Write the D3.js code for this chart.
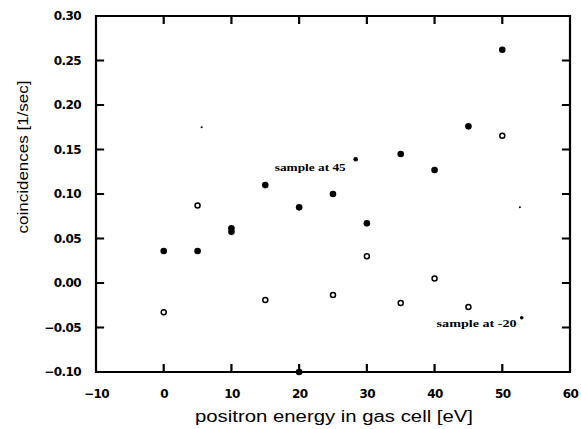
<!DOCTYPE html>
<html>
<head>
<meta charset="utf-8">
<script src="https://cdn.jsdelivr.net/npm/d3@7"></script>
<style>
  body { margin: 0; background: #fff; }
  svg { display: block; }
</style>
</head>
<body>
<div id="plot"></div>
<script>
// sample at 45 deg (filled dots)
let energy45 = [0, 5, 10, 10, 15, 20, 20, 25, 30, 35, 40, 45, 50];
let rate45 = [0.036, 0.036, 0.0615, 0.0575, 0.110, 0.085, -0.100, 0.100, 0.067, 0.145, 0.127, 0.176, 0.262];

// sample at -20 deg (open dots)
let energyM20 = [0, 5, 15, 25, 30, 35, 40, 45, 50];
let rateM20 = [-0.033, 0.087, -0.019, -0.0135, 0.030, -0.0225, 0.005, -0.027, 0.1655];

// stray specks on the scan
let speckX = [5.6, 52.6];
let speckY = [0.175, 0.085];

let xTicks = [-10, 0, 10, 20, 30, 40, 50, 60];
let yTicks = [-0.10, -0.05, 0.00, 0.05, 0.10, 0.15, 0.20, 0.25, 0.30];

let labelText = ["sample at 45", "sample at -20"];
let labelX = [16.4, 40.3];
let labelY = [0.126, -0.049];
let degX = [28.35, 52.87];
let degY = [0.139, -0.039];

let width = 581;
let height = 429;

let x = d3.scaleLinear().domain([-10, 60]).range([96, 570]);
let y = d3.scaleLinear().domain([-0.1, 0.3]).range([372, 16]);

let svg = d3.select("#plot")
    .append("svg")
    .attr("width", width)
    .attr("height", height)
    .style("background-color", "#fff");

let tickFont = "DejaVu Sans, sans-serif";
let tickLen = 7;
let tickW = 2;
let frameW = 2.2;

// tick labels from the d3 axes
let axisB = svg.append("g")
    .attr("transform", `translate(0,${y(-0.1)})`)
    .call(d3.axisBottom(x).tickValues(xTicks).tickSize(0).tickPadding(17).tickFormat(d3.format("d")));
let axisL = svg.append("g")
    .attr("transform", `translate(${x(-10)},0)`)
    .call(d3.axisLeft(y).tickValues(yTicks).tickSize(0).tickPadding(15).tickFormat(d3.format(".2f")));

[axisB, axisL].forEach(g => {
    g.select(".domain").remove();
    g.selectAll(".tick line").remove();
    g.selectAll(".tick text")
        .attr("fill", "#000")
        .style("font-family", tickFont)
        .style("font-size", "12px")
        .style("font-weight", "bold")
        .style("letter-spacing", "-0.6px");
});

// frame as one path, ticks pointing inward on all four sides
let x0 = x(-10), x1 = x(60), y0 = y(0.3), y1 = y(-0.1);
let p = d3.path();
p.rect(x0, y0, x1 - x0, y1 - y0);
xTicks.forEach(v => {
    p.moveTo(x(v), y1); p.lineTo(x(v), y1 - tickLen);
    p.moveTo(x(v), y0); p.lineTo(x(v), y0 + tickLen);
});
yTicks.forEach(v => {
    p.moveTo(x0, y(v)); p.lineTo(x0 + tickLen, y(v));
    p.moveTo(x1, y(v)); p.lineTo(x1 - tickLen, y(v));
});
svg.append("path")
    .attr("d", p.toString())
    .attr("fill", "none")
    .attr("stroke", "#000")
    .attr("stroke-width", frameW)
    .attr("stroke-linecap", "square");

// axis titles
svg.append("text")
    .attr("x", 334)
    .attr("y", 422)
    .attr("text-anchor", "middle")
    .attr("textLength", 278)
    .attr("lengthAdjust", "spacingAndGlyphs")
    .style("font-family", "Liberation Sans, sans-serif")
    .style("font-size", "16px")
    .text("positron energy in gas cell [eV]");

svg.append("text")
    .attr("transform", "translate(28,157) rotate(-90)")
    .attr("text-anchor", "middle")
    .attr("textLength", 153)
    .attr("lengthAdjust", "spacingAndGlyphs")
    .style("font-family", "Liberation Sans, sans-serif")
    .style("font-size", "15px")
    .text("coincidences [1/sec]");

// data
svg.selectAll("circle.filled")
    .data(energy45.map((e, i) => [e, rate45[i]]))
    .enter()
    .append("circle")
    .attr("class", "filled")
    .attr("cx", d => x(d[0]))
    .attr("cy", d => y(d[1]))
    .attr("r", 3.3)
    .style("fill", "#000");

svg.selectAll("circle.open")
    .data(energyM20.map((e, i) => [e, rateM20[i]]))
    .enter()
    .append("circle")
    .attr("class", "open")
    .attr("cx", d => x(d[0]))
    .attr("cy", d => y(d[1]))
    .attr("r", 2.5)
    .style("fill", "#fff")
    .style("stroke", "#000")
    .style("stroke-width", 1.5);

svg.selectAll("circle.speck")
    .data(speckX.map((e, i) => [e, speckY[i]]))
    .enter()
    .append("circle")
    .attr("class", "speck")
    .attr("cx", d => x(d[0]))
    .attr("cy", d => y(d[1]))
    .attr("r", 1)
    .style("fill", "#000");

// annotations
labelText.forEach((t, i) => {
    svg.append("text")
        .attr("x", x(labelX[i]))
        .attr("y", y(labelY[i]))
        .attr("textLength", i === 0 ? 71 : 80)
        .attr("lengthAdjust", "spacingAndGlyphs")
        .style("font-family", "Liberation Serif, serif")
        .style("font-weight", "bold")
        .style("font-size", "10px")
        .text(t);
    svg.append("circle")
        .attr("cx", x(degX[i]))
        .attr("cy", y(degY[i]))
        .attr("r", i === 0 ? 2.3 : 1.8)
        .style("fill", "#000");
});
</script>
</body>
</html>
